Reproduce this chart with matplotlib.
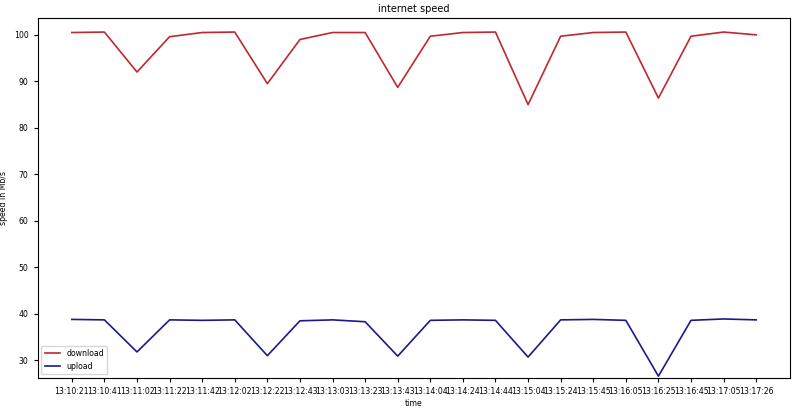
import matplotlib
matplotlib.use("Agg")
import matplotlib.pyplot as plt

times = ["13:10:21","13:10:41","13:11:02","13:11:22","13:11:42","13:12:02","13:12:22","13:12:43",
         "13:13:03","13:13:23","13:13:43","13:14:04","13:14:24","13:14:44","13:15:04","13:15:24",
         "13:15:45","13:16:05","13:16:25","13:16:45","13:17:05","13:17:26"]
download = [100.5,100.6,92,99.6,100.5,100.6,89.5,99,100.5,100.5,88.7,99.7,100.5,100.6,85,99.7,100.5,100.6,86.4,99.7,100.6,100]
upload = [38.8,38.7,31.8,38.7,38.6,38.7,31,38.5,38.7,38.3,30.9,38.6,38.7,38.6,30.7,38.7,38.8,38.6,26.6,38.6,38.9,38.7]

fs = 5.6
fig = plt.figure(figsize=(8, 4.2), dpi=100)
ax = fig.add_axes([0.047, 0.1, 0.941, 0.858])
x = range(len(times))
ax.plot(x, download, color="#c0282d", lw=1.2, label="download")
ax.plot(x, upload, color="#1a1a8c", lw=1.2, label="upload")
ax.set_ylim(23.0, 103.8)
ax.set_ylim(26.2, 103.7)
ax.set_xticks(list(x))
ax.set_xticklabels(times, fontsize=fs)
ax.tick_params(axis="both", labelsize=fs, length=3)
ax.set_xlabel("time", fontsize=fs, labelpad=2)
ax.set_ylabel("speed in Mb/s", fontsize=fs, labelpad=4)
ax.set_title("internet speed", fontsize=7, pad=4)
ax.legend(loc="lower left", fontsize=fs)
fig.savefig("out.png")
